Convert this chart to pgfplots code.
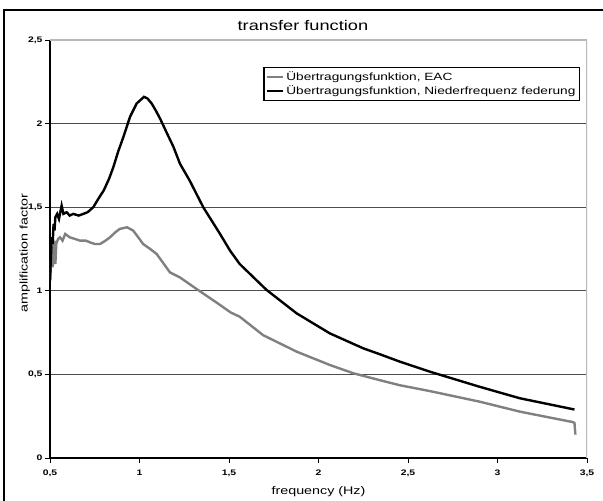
\documentclass[border=0pt]{standalone}
\usepackage{pgfplots}
\pgfplotsset{compat=1.18}
\usepackage{fontspec}
\setmainfont{Liberation Sans}
\newfontfamily\widefont[FakeStretch=1.3]{Liberation Sans}

\definecolor{eacgray}{RGB}{128,128,128}

\begin{document}
\begin{tikzpicture}[x=1pt,y=1pt]
  \useasboundingbox (0,0) rectangle (603,501);
  \draw[black,line width=1.2pt] (4,-5) -- (4,491) -- (610,491);
  \begin{axis}[
      at={(50pt,43pt)}, anchor=south west,
      width=537pt, height=418pt, scale only axis,
      xmin=0.5, xmax=3.5, ymin=0, ymax=2.5,
      xtick={0.5,1,...,3.5}, ytick={0,0.5,...,2.5},
      /pgf/number format/use comma,
      /pgf/number format/assume math mode=true,
      ticklabel style={font=\widefont\fontsize{8}{9}\selectfont\bfseries},
      xticklabel style={yshift=-3pt},
      yticklabel style={xshift=1pt},
      axis x line*=bottom, axis y line*=left,
      axis line style={black, line width=1.2pt},
      tick align=outside, major tick length=5pt,
      tick style={black, line width=0.8pt},
      ymajorgrids, grid style={gray!60!black, line width=0.9pt},
      title={transfer function},
      title style={font=\widefont\fontsize{14}{16}\selectfont, at={(axis description cs:0.471,1.02)}, anchor=center},
      xlabel={frequency (Hz)},
      xlabel style={font=\widefont\fontsize{11}{13}\selectfont, at={(axis description cs:0.5,-0.081)}, anchor=center},
      ylabel={amplification factor},
      ylabel style={font=\widefont\fontsize{11}{13}\selectfont, at={(axis description cs:-0.047,0.49)}, anchor=center},
      legend style={at={(axis description cs:0.987,0.935)}, anchor=north east,
        draw=black, line width=1.2pt, font=\widefont\fontsize{10.5}{12.5}\selectfont,
        row sep=0pt, inner xsep=2pt, inner ysep=2pt},
      legend cell align=left,
      legend image code/.code={\draw[#1] (0pt,0pt) -- (16pt,0pt);},
    ]
    \draw[gray!55, line width=1.3pt] (rel axis cs:0,1) -- (rel axis cs:1,1) -- (rel axis cs:1,0);

    \addplot[eacgray, line width=2.4pt] coordinates {
      (0.5,1.06) (0.505,1.15) (0.51,1.26) (0.515,1.14) (0.52,1.22) (0.525,1.30)
      (0.53,1.16) (0.535,1.28) (0.545,1.31) (0.556,1.32) (0.57,1.30) (0.585,1.34)
      (0.61,1.32) (0.64,1.31) (0.668,1.30) (0.70,1.30) (0.723,1.29) (0.75,1.28)
      (0.78,1.28) (0.81,1.30) (0.835,1.32) (0.865,1.35) (0.89,1.37) (0.93,1.38)
      (0.965,1.36) (1.00,1.31) (1.02,1.28) (1.06,1.25) (1.096,1.22) (1.13,1.17)
      (1.17,1.11) (1.226,1.08) (1.32,1.01) (1.43,0.93) (1.51,0.87) (1.56,0.845)
      (1.69,0.735) (1.878,0.636) (2.064,0.556) (2.194,0.507) (2.344,0.465)
      (2.455,0.435) (2.623,0.40) (2.90,0.337) (3.126,0.277) (3.42,0.215)
      (3.43,0.21) (3.435,0.14)};
    \addlegendentry{Übertragungsfunktion, EAC}

    \addplot[black, line width=2.4pt] coordinates {
      (0.5,1.06) (0.505,1.20) (0.51,1.32) (0.515,1.28) (0.52,1.40) (0.525,1.36)
      (0.53,1.44) (0.54,1.46) (0.55,1.43) (0.565,1.51) (0.575,1.46) (0.593,1.47)
      (0.61,1.45) (0.63,1.46) (0.66,1.45) (0.686,1.46) (0.71,1.47) (0.742,1.50)
      (0.77,1.55) (0.80,1.60) (0.83,1.67) (0.854,1.74) (0.88,1.83) (0.91,1.92)
      (0.947,2.04) (0.984,2.12) (1.025,2.16) (1.045,2.15) (1.068,2.12) (1.09,2.08)
      (1.115,2.03) (1.15,1.95) (1.19,1.86) (1.226,1.76) (1.28,1.66) (1.356,1.50)
      (1.45,1.34) (1.506,1.24) (1.56,1.16) (1.71,1.005) (1.878,0.865) (2.064,0.745)
      (2.25,0.656) (2.344,0.62) (2.455,0.576) (2.623,0.516) (2.90,0.426)
      (3.126,0.357) (3.43,0.29)};
    \addlegendentry{Übertragungsfunktion, Niederfrequenz federung}
  \end{axis}
\end{tikzpicture}
\end{document}
